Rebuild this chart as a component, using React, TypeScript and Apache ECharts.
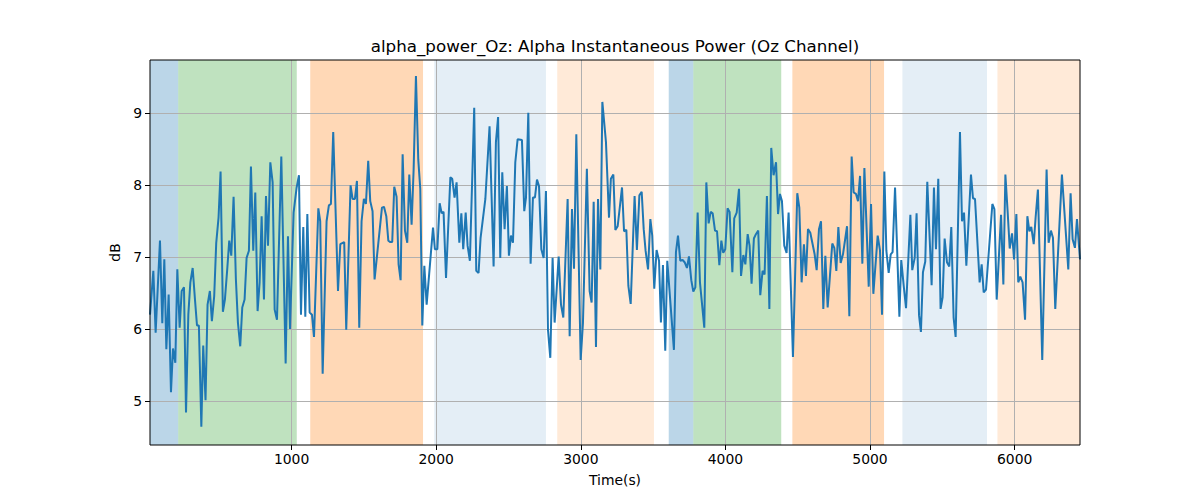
import React, { useEffect, useRef } from "react";
import * as echarts from "echarts";

// Time stamps (s) of the alpha-power samples
const times: number[] = [
  21, 44, 60, 90, 106, 120, 134, 150, 166, 180, 196, 210, 226, 240, 256, 270, 286, 300, 316, 332,
  346, 359, 376, 389, 405, 419, 435, 449, 465, 479, 495, 509, 525, 539, 555, 569, 583, 599, 615, 629,
  645, 659, 675, 689, 705, 719, 735, 749, 765, 779, 793, 809,
  823, 837, 853, 869, 883, 899, 929, 959, 975, 989, 1014, 1035, 1051, 1065, 1081, 1095, 1109, 1125,
  1141, 1155, 1185, 1198, 1215, 1242, 1258, 1272, 1288, 1321, 1337, 1364, 1378, 1408, 1422, 1438,
  1452, 1468, 1484, 1500, 1514, 1530, 1544, 1560, 1574,
  1625, 1639, 1655, 1669, 1683, 1696, 1710, 1726, 1740, 1754, 1768, 1784, 1800, 1814, 1830, 1844,
  1860, 1876, 1890, 1904, 1918, 1934, 1978, 1991, 2008, 2024, 2038, 2051, 2068, 2098, 2111, 2127,
  2141, 2160, 2174, 2187, 2204, 2217, 2233, 2263, 2277, 2293, 2307, 2340, 2369, 2383, 2397, 2413, 2428,
  2443, 2457, 2473, 2489, 2503, 2517, 2531, 2547, 2563, 2593, 2609, 2621, 2637, 2653, 2669, 2683,
  2697, 2711, 2727, 2743, 2759, 2773, 2789, 2805, 2819, 2847, 2863, 2879, 2909, 2923, 2939, 2953,
  2969, 2999, 3015, 3042, 3061, 3075, 3089, 3105, 3119, 3135, 3149, 3174, 3195, 3208,
  3225, 3239, 3255, 3285, 3299, 3315, 3329, 3345, 3372, 3388, 3405, 3421, 3435, 3448, 3465, 3481,
  3494, 3508, 3524, 3541, 3554, 3568, 3584, 3598, 3644, 3658, 3672, 3688, 3704, 3718, 3734, 3748,
  3764, 3778, 3792, 3808, 3824, 3854, 3868, 3884, 3898, 3912, 3928, 3942, 3958, 3972, 3985, 3999, 4015,
  4029, 4048, 4061, 4078, 4094, 4108, 4124, 4138, 4154, 4167, 4181, 4197, 4211, 4227, 4241, 4257,
  4271, 4287, 4304, 4317, 4333, 4350, 4364, 4377, 4391, 4407, 4423, 4437, 4467, 4497, 4511, 4527,
  4543, 4557, 4571, 4587, 4601, 4617, 4631, 4647, 4661, 4677, 4691, 4707, 4739, 4753, 4767, 4781,
  4797, 4813,
  4841, 4857, 4873, 4887, 4903, 4917, 4931, 4947, 4961, 4991, 5007, 5023, 5053, 5069, 5083, 5099,
  5113, 5129, 5143, 5156, 5173, 5203, 5216, 5233, 5249, 5279, 5292, 5309, 5322, 5339, 5352, 5366,
  5382, 5396, 5426, 5442, 5456, 5472, 5488, 5502, 5516, 5532, 5548, 5562, 5578, 5592, 5622,
  5636, 5650, 5666, 5698, 5712, 5726, 5758, 5772, 5786, 5802, 5846, 5860, 5876, 5906, 5922, 5936,
  5952, 5966, 5982, 5996, 6012, 6025, 6039, 6055, 6072, 6088, 6102, 6115, 6132, 6145, 6161, 6191,
  6221, 6235, 6251, 6265, 6281, 6327, 6371, 6387, 6401, 6417, 6431, 6452,
];

// Alpha instantaneous power (dB)
const dbValues: number[] = [
  6.2, 6.81, 5.95, 7.23, 6.08, 6.97, 5.72, 6.48, 5.12, 5.73, 5.53, 6.83, 6.02, 6.53, 6.58, 4.84, 6.2, 6.65, 6.85, 6.41,
  6.05, 6.05, 4.64, 5.77, 5.01, 6.34, 6.53, 6.11, 6.46, 7.2, 7.55, 8.19, 6.24, 6.41, 6.83, 7.23, 7.02, 7.84, 6.69, 6.09,
  5.76, 6.3, 6.41, 6.99, 7.09, 8.26, 7.09, 7.9, 6.25, 6.65, 7.57, 6.41,
  7.85, 7.16, 8.32, 8.04, 6.27, 6.13, 8.4, 5.52, 7.29, 6.0, 7.62, 7.97, 8.14, 6.2, 7.42, 6.17, 7.6, 6.23,
  6.2, 5.89, 7.68, 7.5, 5.38, 7.5, 7.72, 7.74, 8.74, 6.53, 7.18, 7.21, 5.99, 8.0, 7.81, 7.81,
  8.06, 6.02, 7.5, 7.81, 7.74, 8.34, 7.78, 7.64, 6.69,
  7.69, 7.7, 7.57, 7.23, 7.21, 7.21, 7.98, 7.84, 6.9, 6.68, 8.43, 7.37, 7.2, 8.15, 7.45, 8.22,
  9.52, 8.36, 7.95, 6.05, 6.88, 6.34, 7.41, 7.11, 7.11, 7.75, 7.61, 7.63, 6.71, 8.11, 8.09, 7.83,
  8.04, 7.2, 7.61, 7.11, 7.62, 7.16, 6.95, 9.08, 6.81, 6.78, 7.27, 7.81, 8.82, 7.85, 6.87, 8.6, 8.95,
  6.99, 8.18, 7.39, 7.99, 7.02, 7.3, 7.2, 8.32, 8.64, 8.63, 7.64, 7.83, 9.01, 6.91, 7.83, 7.83,
  8.08, 7.99, 7.11, 6.99, 7.92, 5.99, 5.6, 6.99, 6.09, 7.01, 6.34, 6.16, 7.81, 5.9, 7.67, 6.84,
  8.71, 5.57, 6.09, 8.23, 6.53, 6.37, 7.77, 5.75, 7.81, 6.83, 9.16, 8.6, 7.55, 8.09,
  8.15, 7.38, 7.43, 7.97, 7.36, 7.38, 6.6, 6.35, 7.85, 7.1, 7.86, 7.91, 7.39, 7.09, 6.83, 7.53,
  7.3, 6.56, 7.1, 6.95, 6.09, 6.89, 5.7, 6.95, 5.71, 7.07, 7.3, 6.95, 6.96, 6.93, 6.85, 7.01,
  6.68, 6.52, 6.58, 7.62, 6.65, 6.02, 8.04, 7.47, 7.63, 7.61, 7.37, 7.36, 6.89, 7.23, 7.06, 7.11, 7.68,
  7.63, 6.79, 7.54, 7.62, 7.95, 6.74, 7.03, 6.9, 7.32, 7.16, 6.63, 7.26, 7.32, 7.37, 6.47, 6.81,
  6.76, 7.85, 6.28, 8.52, 8.14, 8.32, 7.6, 7.88, 7.78, 7.16, 7.06, 7.62, 5.61, 7.89, 7.69, 6.65,
  7.18, 6.74, 7.39, 7.34, 7.2, 7.04, 6.82, 7.39, 7.5, 6.28, 7.02, 6.3, 7.19, 7.13, 6.81, 7.42,
  6.92, 7.04,
  7.43, 6.18, 8.4, 7.9, 7.88, 7.78, 8.13, 6.91, 8.24, 6.59, 7.74, 6.49, 7.3, 7.09, 6.2, 8.19,
  7.09, 6.78, 7.04, 7.07, 7.97, 6.17, 6.96, 6.6, 6.29, 7.59, 6.82, 6.99, 7.61, 6.19, 5.96, 6.79,
  6.94, 8.05, 6.61, 7.97, 7.11, 8.09, 6.28, 6.44, 7.26, 6.93, 6.87, 7.42, 6.16, 5.89, 8.74,
  7.5, 7.62, 6.88, 8.15, 7.82, 7.81, 6.65, 6.9, 6.51, 6.55, 7.74, 7.67, 6.41, 7.59, 6.62, 8.15,
  7.62, 7.12, 7.33, 6.97, 7.6, 6.65, 6.73, 6.65, 6.13, 7.57, 7.36, 7.42, 7.18, 7.55, 7.94, 5.57,
  8.22, 7.2, 7.37, 7.27, 6.28, 8.15, 6.83, 7.89, 7.25, 7.13, 7.53, 6.97,
];

// Shaded epochs
const regionStarts = [21, 216, 1129, 1987, 2837, 3608, 3778, 4463, 5224, 5881];
const regionEnds = [216, 1036, 1909, 2759, 3506, 3778, 4386, 5097, 5809, 6452];
const regionKinds = [
  "blue", "green", "orange", "lightblue", "lightorange",
  "blue", "green", "orange", "lightblue", "lightorange",
];

const xTicks = [1000, 2000, 3000, 4000, 5000, 6000];
const yTicks = [5, 6, 7, 8, 9];

const TITLE = "alpha_power_Oz: Alpha Instantaneous Power (Oz Channel)";
const X_LABEL = "Time(s)";
const Y_LABEL = "dB";
const X_MIN = 21;
const X_MAX = 6452;
const Y_MIN = 4.387;
const Y_MAX = 9.743;

const REGION_COLORS: Record<string, string> = {
  blue: "rgba(31,119,180,0.3)",
  green: "rgba(44,160,44,0.3)",
  orange: "rgba(255,127,14,0.3)",
  lightblue: "rgba(31,119,180,0.12)",
  lightorange: "rgba(255,127,14,0.16)",
};

const FONT = "DejaVu Sans";

export default function App() {
  const ref = useRef<HTMLDivElement>(null);

  useEffect(() => {
    if (!ref.current) return;
    const chart = echarts.init(ref.current, null, { renderer: "svg" });

    const gridLeft = 150;
    const gridRight = 120;
    const gridTop = 60;
    const gridBottom = 55;
    const plotW = 1200 - gridLeft - gridRight;
    const plotH = 500 - gridTop - gridBottom;

    const areas = regionStarts.map((s, i) => [
      { xAxis: s, itemStyle: { color: REGION_COLORS[regionKinds[i]] } },
      { xAxis: regionEnds[i] },
    ]);

    chart.setOption({
      animation: false,
      backgroundColor: "#ffffff",
      grid: { left: gridLeft, right: gridRight, top: gridTop, bottom: gridBottom, containLabel: false },
      graphic: [
        {
          type: "text",
          x: gridLeft + plotW / 2,
          y: 46,
          silent: true,
          style: {
            text: TITLE,
            fill: "#000",
            fontSize: 16.7,
            fontFamily: FONT,
            align: "center",
            verticalAlign: "middle",
          },
        },
        {
          type: "rect",
          silent: true,
          z: 100,
          shape: { x: gridLeft, y: gridTop, width: plotW, height: plotH },
          style: { fill: "none", stroke: "#000", lineWidth: 1 },
        },
      ],
      xAxis: {
        type: "value",
        min: X_MIN,
        max: X_MAX,
        z: 1.5,
        name: X_LABEL,
        nameLocation: "middle",
        nameGap: 28,
        nameTextStyle: { color: "#000", fontSize: 13.9, fontFamily: FONT },
        axisLine: { show: false },
        axisTick: {
          show: true,
          customValues: xTicks,
          length: 5,
          inside: false,
          lineStyle: { color: "#000", width: 1 },
        },
        axisLabel: {
          customValues: xTicks,
          color: "#000",
          fontSize: 13.9,
          fontFamily: FONT,
          margin: 7,
          formatter: (v: number) => String(v),
        },
        splitLine: { show: true, lineStyle: { color: "#b0b0b0", width: 1 } },
      },
      yAxis: {
        type: "value",
        min: Y_MIN,
        max: Y_MAX,
        z: 1.5,
        name: Y_LABEL,
        nameLocation: "middle",
        nameGap: 26,
        nameRotate: 90,
        nameTextStyle: { color: "#000", fontSize: 13.9, fontFamily: FONT },
        axisLine: { show: false },
        axisTick: {
          show: true,
          customValues: yTicks,
          length: 5,
          inside: false,
          lineStyle: { color: "#000", width: 1 },
        },
        axisLabel: {
          customValues: yTicks,
          color: "#000",
          fontSize: 13.9,
          fontFamily: FONT,
          margin: 8,
          formatter: (v: number) => String(v),
        },
        splitLine: { show: true, lineStyle: { color: "#b0b0b0", width: 1 } },
      },
      series: [
        {
          type: "line",
          data: times.map((t, i) => [t, dbValues[i]]),
          showSymbol: false,
          symbol: "none",
          z: 2,
          lineStyle: { color: "#1f77b4", width: 2 },
          markArea: {
            silent: true,
            z: 1,
            label: { show: false },
            data: areas,
          },
        },
      ],
    });

    return () => chart.dispose();
  }, []);

  return (
    <div
      ref={ref}
      style={{ position: "fixed", left: 0, top: 0, width: 1200, height: 500, background: "#fff" }}
    />
  );
}
